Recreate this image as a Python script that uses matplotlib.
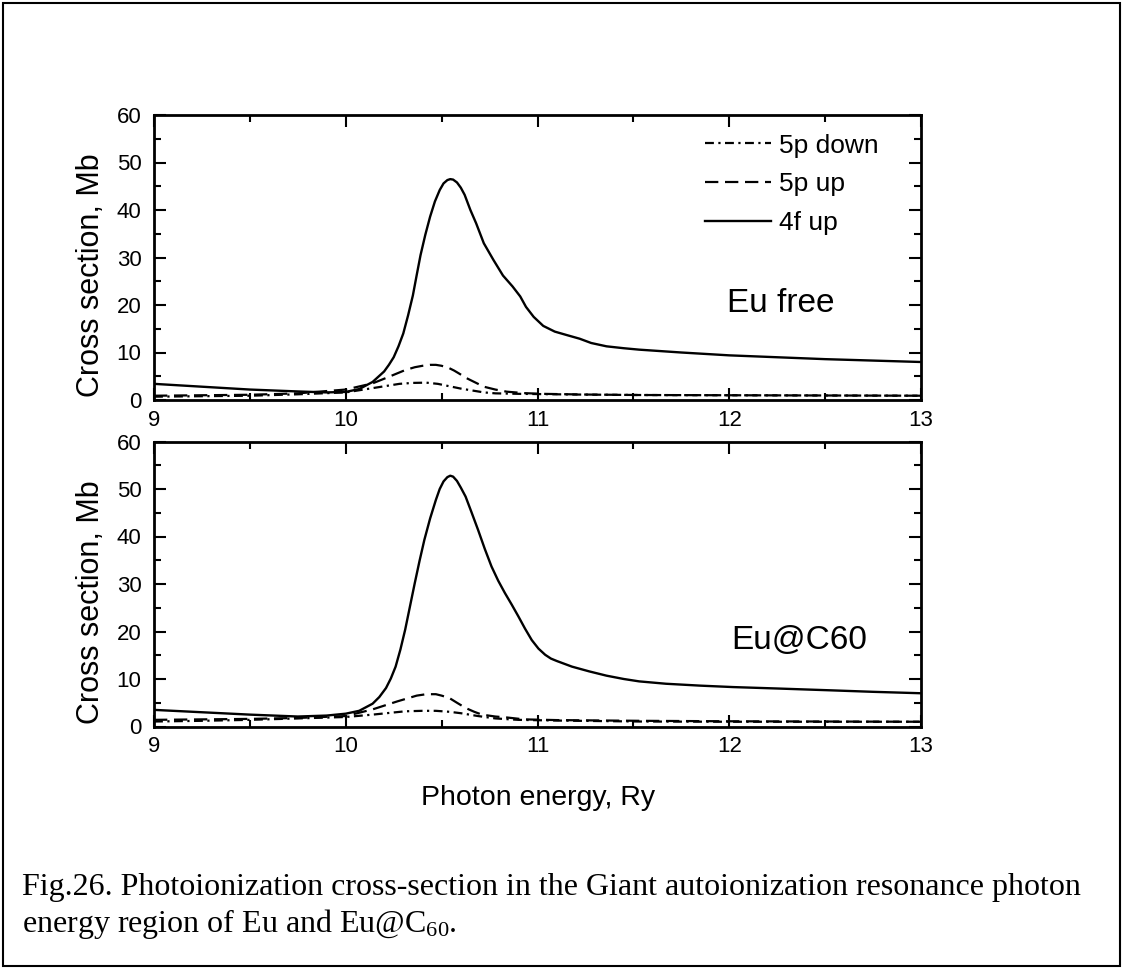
import matplotlib
matplotlib.use("Agg")
import matplotlib.pyplot as plt
from matplotlib.patches import Rectangle
from matplotlib.ticker import MultipleLocator

plt.rcParams['font.family'] = ['Liberation Sans', 'DejaVu Sans']
plt.rcParams['mathtext.fontset'] = 'custom'
plt.rcParams['mathtext.rm'] = 'Liberation Serif'
plt.rcParams['mathtext.default'] = 'rm'

# ---- data (photon energy in Ry, cross section in Mb) ----
# Eu free
free_4f_e = [9.0, 9.25, 9.5, 9.75, 9.9, 10.0, 10.07, 10.14, 10.2, 10.225, 10.25, 10.275,
             10.3, 10.325, 10.35, 10.37, 10.39, 10.415, 10.44, 10.465, 10.49, 10.51,
             10.53, 10.545, 10.56, 10.58, 10.6, 10.62, 10.65, 10.68, 10.72, 10.77,
             10.82, 10.87, 10.91, 10.94, 10.98, 11.03, 11.09, 11.15, 11.22, 11.28,
             11.36, 11.45, 11.53, 11.75, 12.0, 12.25, 12.5, 12.75, 13.0]
free_4f_up = [3.4, 2.8, 2.2, 1.8, 1.6, 1.7, 2.3, 3.8, 6.0, 7.4, 9.0, 11.3,
              14.0, 17.8, 22.0, 26.3, 30.5, 34.8, 38.6, 41.8, 44.2, 45.6,
              46.3, 46.5, 46.4, 45.8, 44.7, 43.2, 40.0, 37.2, 33.0, 29.5,
              26.2, 23.9, 21.8, 19.6, 17.5, 15.6, 14.4, 13.7, 12.9, 12.0,
              11.3, 10.9, 10.6, 10.0, 9.4, 9.0, 8.6, 8.3, 8.0]

free_5pu_e = [9.0, 9.25, 9.5, 9.75, 10.0, 10.14, 10.22, 10.31, 10.36, 10.4, 10.44, 10.47,
              10.5, 10.54, 10.565, 10.59, 10.63, 10.68, 10.72, 10.78, 10.84, 10.93,
              11.02, 11.25, 11.53, 12.0, 12.5, 13.0]
free_5p_up = [0.9, 1.0, 1.1, 1.4, 2.2, 3.5, 4.8, 6.3, 6.9, 7.2, 7.4, 7.4,
              7.2, 6.7, 6.2, 5.6, 4.6, 3.6, 2.8, 2.2, 1.75, 1.45,
              1.3, 1.15, 1.05, 1.0, 0.95, 0.9]

free_5pd_e = [9.0, 9.25, 9.5, 9.75, 10.0, 10.14, 10.28, 10.35, 10.42, 10.48, 10.54, 10.6,
              10.66, 10.72, 10.78, 10.9, 11.2, 11.53, 12.0, 12.5, 13.0]
free_5p_down = [0.7, 0.8, 0.9, 1.2, 1.6, 2.5, 3.4, 3.6, 3.65, 3.4, 2.9, 2.4,
                2.0, 1.6, 1.4, 1.3, 1.15, 1.05, 1.0, 0.95, 0.9]

# Eu@C60
c60_4f_e = [9.0, 9.25, 9.5, 9.75, 9.9, 10.0, 10.07, 10.14, 10.175, 10.21, 10.235, 10.26,
            10.285, 10.31, 10.335, 10.36, 10.385, 10.41, 10.44, 10.47, 10.49, 10.51,
            10.53, 10.545, 10.56, 10.58, 10.6, 10.625, 10.655, 10.69, 10.725, 10.76,
            10.795, 10.83, 10.865, 10.9, 10.935, 10.97, 11.005, 11.04, 11.07, 11.1,
            11.18, 11.27, 11.36, 11.45, 11.53, 11.67, 11.85, 12.02, 12.25, 12.54,
            12.75, 13.0]
c60_4f_up = [3.5, 3.0, 2.5, 2.1, 2.3, 2.7, 3.3, 4.8, 6.2, 8.1, 10.1, 12.6,
             16.2, 20.4, 25.3, 30.2, 34.9, 39.3, 43.8, 47.7, 50.0, 51.6,
             52.5, 52.8, 52.6, 51.7, 50.3, 48.4, 45.2, 41.4, 37.4, 33.7,
             30.7, 28.1, 25.7, 23.2, 20.6, 18.2, 16.4, 15.1, 14.3, 13.8,
             12.6, 11.6, 10.7, 10.0, 9.5, 9.0, 8.6, 8.3, 8.0, 7.6,
             7.3, 7.0]

c60_5pu_e = [9.0, 9.25, 9.5, 9.75, 10.0, 10.14, 10.27, 10.37, 10.42, 10.47, 10.5, 10.54,
             10.58, 10.625, 10.67, 10.71, 10.78, 10.84, 10.93, 11.1, 11.53, 12.0, 12.5, 13.0]
c60_5p_up = [1.4, 1.5, 1.6, 1.8, 2.2, 3.6, 5.3, 6.5, 6.8, 6.8, 6.5, 6.0,
             5.0, 3.9, 3.1, 2.5, 2.1, 1.9, 1.5, 1.35, 1.2, 1.1, 1.05, 1.0]

c60_5pd_e = [9.0, 9.25, 9.5, 9.75, 10.0, 10.14, 10.31, 10.4, 10.47, 10.54, 10.6, 10.69,
             10.78, 10.9, 11.1, 11.53, 12.0, 12.5, 13.0]
c60_5p_down = [1.05, 1.2, 1.4, 1.7, 2.0, 2.5, 3.2, 3.3, 3.3, 3.1, 2.8, 2.2,
               1.7, 1.4, 1.25, 1.05, 1.0, 1.0, 1.0]

caption_1 = "Fig.26. Photoionization cross-section in the Giant autoionization resonance photon"
caption_2 = r"energy region of Eu and Eu@C$_{60}$."

# ---- figure ----
fig = plt.figure(figsize=(11.25, 9.68), dpi=100)
W, H = 1125, 968

# frame around the whole figure
fig.add_artist(Rectangle((3 / W, 2 / H), 1117 / W, 963 / H, transform=fig.transFigure,
                         fill=False, edgecolor='black', linewidth=1.5))

ax_top = fig.add_axes([154 / W, (H - 400) / H, 767 / W, 285 / H])
ax_bot = fig.add_axes([154 / W, (H - 726.5) / H, 767 / W, 285 / H])

dashdot = (0, (4, 2, 1, 2))
dashed = (0, (6, 3))

panels = [
    (ax_top, free_4f_e, free_4f_up, free_5pu_e, free_5p_up, free_5pd_e, free_5p_down, "Eu free", 0.747, 0.340),
    (ax_bot, c60_4f_e, c60_4f_up, c60_5pu_e, c60_5p_up, c60_5pd_e, c60_5p_down, "Eu@C60", 0.753, 0.3035),
]

for ax, e4, v4, eu, vu, ed, vd, name, tx, ty in panels:
    ax.plot(ed, vd, color='black', lw=1.6, linestyle=dashdot, label='5p down')
    ax.plot(eu, vu, color='black', lw=1.6, linestyle=dashed, label='5p up')
    ax.plot(e4, v4, color='black', lw=1.7, linestyle='-', label='4f up',
            solid_joinstyle='round')
    ax.set_xlim(9, 13)
    ax.set_ylim(0, 60)
    ax.xaxis.set_major_locator(MultipleLocator(1))
    ax.xaxis.set_minor_locator(MultipleLocator(0.5))
    ax.yaxis.set_major_locator(MultipleLocator(10))
    ax.yaxis.set_minor_locator(MultipleLocator(5))
    ax.tick_params(which='both', direction='in', top=True, right=True, width=1.5)
    ax.tick_params(which='major', length=8.6, labelsize=16)
    ax.tick_params(which='minor', length=5)
    ax.tick_params(axis='y', which='major', pad=9)
    ax.tick_params(axis='x', which='major', pad=7)
    for sp in ax.spines.values():
        sp.set_linewidth(2)
    ax.text(tx, ty, name, transform=ax.transAxes, fontsize=24, ha='left', va='center')

ax_top.legend(loc='upper left', bbox_to_anchor=(0.718, 0.935), frameon=False, fontsize=19,
              borderpad=0, borderaxespad=0, handlelength=2.5, handletextpad=0.3,
              labelspacing=0.56)

# axis labels
fig.text(91 / W, (H - 275.5) / H, "Cross section, Mb", rotation=90, fontsize=22,
         ha='center', va='center')
fig.text(91 / W, (H - 602) / H, "Cross section, Mb", rotation=90, fontsize=22,
         ha='center', va='center')
fig.text(538 / W, (H - 805) / H, "Photon energy, Ry", fontsize=20.5, ha='center',
         va='baseline')

# caption
fig.text(21.7 / W, (H - 895) / H, caption_1, fontsize=23, family='Liberation Serif',
         ha='left', va='baseline')
fig.text(21.7 / W, (H - 932) / H, caption_2, fontsize=23, family='Liberation Serif',
         ha='left', va='baseline')

fig.savefig("out.png", dpi=100)
